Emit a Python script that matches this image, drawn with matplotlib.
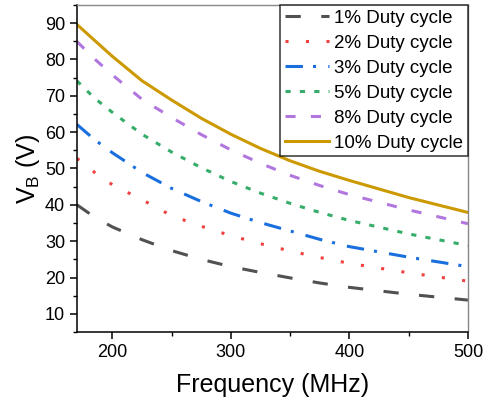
import numpy as np
import matplotlib
matplotlib.use('Agg')
import matplotlib.pyplot as plt
from matplotlib.ticker import MultipleLocator

freq = [170, 185, 200, 225, 250, 275, 300, 325, 350, 375, 400, 450, 500]

vb_1 = [40.0, 36.6, 33.9, 30.4, 27.4, 25.0, 23.0, 21.4, 19.9, 18.5, 17.3, 15.4, 13.8]
vb_2 = [52.8, 48.9, 45.5, 41.4, 37.0, 34.1, 31.5, 29.3, 27.3, 25.5, 23.9, 21.3, 19.0]
vb_3 = [62.1, 57.9, 54.3, 48.9, 44.5, 40.9, 37.7, 35.1, 32.8, 30.5, 28.5, 25.6, 23.0]
vb_5 = [74.1, 69.3, 65.4, 59.4, 54.5, 50.2, 46.4, 43.2, 40.4, 37.9, 35.7, 32.0, 28.8]
vb_8 = [84.9, 80.1, 75.7, 69.0, 64.0, 59.3, 55.1, 51.4, 48.1, 45.3, 42.8, 38.6, 34.8]
vb_10 = [89.6, 85.2, 80.8, 74.1, 68.8, 63.8, 59.4, 55.5, 52.1, 49.2, 46.7, 42.0, 37.9]

labels = ['1% Duty cycle', '2% Duty cycle', '3% Duty cycle',
          '5% Duty cycle', '8% Duty cycle', '10% Duty cycle']

plt.rcParams['font.family'] = ['Liberation Sans', 'DejaVu Sans']

fig = plt.figure(figsize=(4.9, 4.04), dpi=100)
ax = fig.add_axes([0.157, 0.178, 0.798, 0.81])

lw = 2.2
ax.plot(freq, vb_1, color='#515151', lw=lw, dashes=(5, 6.7), label=labels[0])
ax.plot(freq, vb_2, color='#F14040', lw=lw, dashes=(1, 5.7), label=labels[1])
ax.plot(freq, vb_3, color='#1A6FDF', lw=lw, dashes=(5.7, 3.3, 1, 4), label=labels[2])
ax.plot(freq, vb_5, color='#37AD6B', lw=lw, dashes=(1.7, 3), label=labels[3])
ax.plot(freq, vb_8, color='#B177DE', lw=lw, dashes=(3.3, 5), label=labels[4])
ax.plot(freq, vb_10, color='#CC9900', lw=lw, label=labels[5])

ax.set_xlim(170, 500)
ax.set_ylim(5, 95)
ax.xaxis.set_major_locator(MultipleLocator(100))
ax.xaxis.set_minor_locator(MultipleLocator(50))
ax.yaxis.set_major_locator(MultipleLocator(10))
ax.yaxis.set_minor_locator(MultipleLocator(5))
ax.set_yticks(np.arange(10, 91, 10))

ax.tick_params(which='major', direction='out', length=5, width=1.1, labelsize=13,
               top=False, right=False)
ax.tick_params(which='minor', direction='out', length=3, width=1.0,
               top=False, right=False)
for s in ['left', 'bottom']:
    ax.spines[s].set_linewidth(1.1)
for s in ['top', 'right']:
    ax.spines[s].set_color('#888888')
    ax.spines[s].set_linewidth(1.0)

ax.set_xlabel('Frequency (MHz)', fontsize=18, labelpad=9)
ax.set_ylabel('V$_\\mathregular{B}$ (V)', fontsize=18, labelpad=2)

leg = ax.legend(loc='upper right', fontsize=13.5, frameon=True, fancybox=False,
                edgecolor='black', handlelength=2.35, handletextpad=0.3,
                borderaxespad=0, borderpad=0.25, labelspacing=0.42)
leg.get_frame().set_linewidth(1.1)

fig.savefig('out.png', dpi=100)
